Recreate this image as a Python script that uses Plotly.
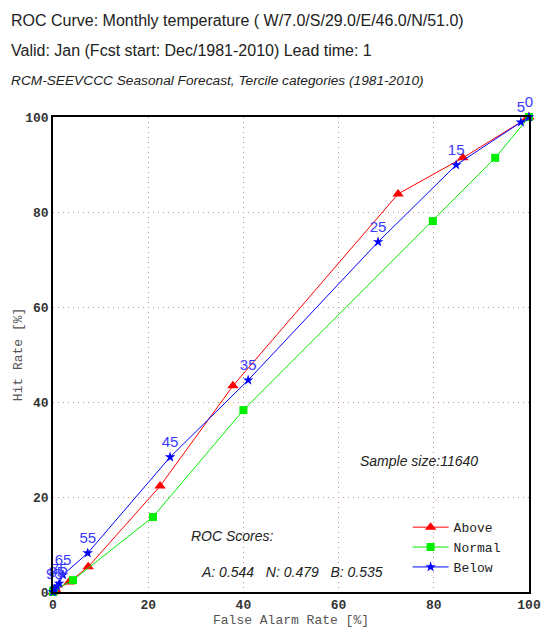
import plotly.graph_objects as go

above_far = [0, 0.6, 3.4, 7.4, 22.5, 37.8, 72.5, 86.1, 99.6, 100]
above_hr = [0, 0.4, 2.1, 5.3, 22.3, 43.4, 83.8, 91.4, 99.8, 100]

normal_far = [0, 0.2, 4.2, 21.0, 40.0, 79.8, 92.9, 100]
normal_hr = [0, 0.4, 2.5, 15.8, 38.3, 78.1, 91.4, 100]

below_far = [0, 0.3, 0.8, 1.3, 2.1, 7.3, 24.6, 41.0, 68.3, 84.7, 98.3, 100]
below_hr = [0, 0.6, 1.2, 1.8, 3.6, 8.2, 28.4, 44.6, 73.7, 89.9, 98.9, 100]
below_lbl = ["", "95", "85", "75", "65", "55", "45", "35", "25", "15", "5", "0"]

x_ticks = [0, 20, 40, 60, 80, 100]
y_ticks = [0, 20, 40, 60, 80, 100]

mono = "Liberation Mono, Courier New, monospace"
sans = "Liberation Sans, Arial, sans-serif"

fig = go.Figure()
fig.add_trace(go.Scatter(x=above_far, y=above_hr, name="Above", mode="lines+markers",
                         line=dict(color="#ff0000", width=1),
                         marker=dict(symbol="triangle-up", size=10, color="#ff0000"),
                         cliponaxis=False))
fig.add_trace(go.Scatter(x=normal_far, y=normal_hr, name="Normal", mode="lines+markers",
                         line=dict(color="#00ee00", width=1),
                         marker=dict(symbol="square", size=8, color="#00ee00"),
                         cliponaxis=False))
fig.add_trace(go.Scatter(x=below_far, y=below_hr, name="Below", mode="lines+markers+text",
                         text=below_lbl, textposition="top center",
                         textfont=dict(family=sans, size=15, color="#3a3aff"),
                         line=dict(color="#0000ff", width=1),
                         marker=dict(symbol="star", size=8, color="#0000ff"),
                         cliponaxis=False))

grid = dict(showgrid=True, gridcolor="#c89090", griddash="1px,4px", gridwidth=1.3)
fig.update_xaxes(range=[0, 100], tickvals=x_ticks, ticktext=[str(v) for v in x_ticks],
                 showline=True, linecolor="#000", linewidth=1.5, mirror=True,
                 ticks="", zeroline=False, automargin=False,
                 tickfont=dict(family=mono, size=13, color="#333", weight="bold"),
                 title=dict(text="False Alarm Rate [%]", font=dict(family=mono, size=13, color="#555"), standoff=4),
                 **grid)
fig.update_yaxes(range=[0, 100], tickvals=y_ticks, ticktext=[str(v) for v in y_ticks],
                 showline=True, linecolor="#000", linewidth=1.5, mirror=True,
                 ticks="", zeroline=False, automargin=False,
                 tickfont=dict(family=mono, size=13, color="#333", weight="bold"),
                 title=dict(text="Hit Rate [%]", font=dict(family=mono, size=13, color="#555"), standoff=0),
                 **grid)

def px_x(p):
    return (p - 53) / 476.0

def px_y(p):
    return (592 - p) / 475.0

anns = [
    dict(text="ROC Curve: Monthly temperature ( W/7.0/S/29.0/E/46.0/N/51.0)", x=px_x(9), y=px_y(20),
         font=dict(family=sans, size=16, color="#222")),
    dict(text="Valid: Jan (Fcst start: Dec/1981-2010) Lead time: 1", x=px_x(9), y=px_y(50),
         font=dict(family=sans, size=16, color="#222")),
    dict(text="<i>RCM-SEEVCCC Seasonal Forecast, Tercile categories (1981-2010)</i>", x=px_x(9), y=px_y(81),
         font=dict(family=sans, size=13.7, color="#222")),
]
for a in anns:
    fig.add_annotation(xref="paper", yref="paper", xanchor="left", yanchor="middle",
                       showarrow=False, **a)

fig.add_annotation(x=76.8, y=27.6, text="<i>Sample size:11640</i>", showarrow=False,
                   font=dict(family=sans, size=14, color="#222"))
fig.add_annotation(x=37.8, y=11.8, text="<i>ROC Scores:</i>", showarrow=False,
                   font=dict(family=sans, size=14, color="#222"))
fig.add_annotation(x=50.2, y=4.2, text="<i>A: 0.544   N: 0.479   B: 0.535</i>", showarrow=False,
                   font=dict(family=sans, size=14, color="#222"))

fig.update_layout(
    width=544, height=628,
    margin=dict(l=53, r=15, t=117, b=36, autoexpand=False),
    paper_bgcolor="white", plot_bgcolor="white",
    legend=dict(x=0.745, y=0.168, xanchor="left", yanchor="top",
                bgcolor="rgba(0,0,0,0)", font=dict(family=mono, size=13, color="#222"),
                itemwidth=36, tracegroupgap=0),
    showlegend=True,
)

fig.write_html("out.html")
